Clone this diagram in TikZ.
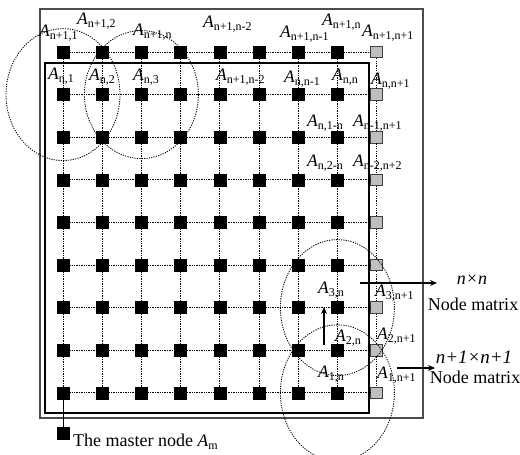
\documentclass[tikz,border=0pt]{standalone}
\usepackage{fontspec}
\setmainfont{Liberation Serif}
\usetikzlibrary{arrows.meta}
\newcommand{\Alab}[1]{{\fontsize{17.5}{18}\selectfont\itshape A}\raisebox{-3pt}{\fontsize{12}{12}\selectfont #1}}
\begin{document}
\begin{tikzpicture}[x=1pt,y=-1pt,
  blk/.style={draw=black, fill=black, minimum size=12pt, inner sep=0pt},
  gry/.style={draw=black!75, fill=black!25, line width=0.8pt, minimum size=11.5pt, inner sep=0pt},
  link/.style={dash pattern=on 1.3pt off 1.1pt, line width=0.9pt},
  zone/.style={dash pattern=on 1.2pt off 1.2pt, line width=0.85pt},
  lab/.style={anchor=west, inner sep=0pt},
  big/.style={inner sep=0pt, font=\fontsize{18}{20}\selectfont},
  arr/.style={-{Stealth[length=7pt,width=6pt]}, line width=1.5pt}]
\useasboundingbox (0,0) rectangle (520,455);
\clip (0,0) rectangle (520,455);
% frames
\draw[line width=1.2pt, draw=black!70] (40,9) rectangle (423,418);
\draw[line width=1.1pt] (45,63) rectangle (369,413);
% grid nodes
\foreach \r in {1,...,9}{
  \foreach \c in {1,...,9}{
    \pgfmathsetmacro\xx{63+(\c-1)*39.2}
    \pgfmathsetmacro\yy{52+(\r-1)*42.6}
    \ifnum\c=9
      \node[gry] (s-\r-\c) at (\xx,\yy) {};
    \else
      \node[blk] (s-\r-\c) at (\xx,\yy) {};
    \fi
  }}
% connectors
\foreach \r in {1,...,9}{
  \foreach \c [evaluate=\c as \n using int(\c+1)] in {1,...,8}{
    \draw[link] (s-\r-\c) -- (s-\r-\n);}}
\foreach \c in {1,...,9}{
  \foreach \r [evaluate=\r as \m using int(\r+1)] in {1,...,8}{
    \draw[link] (s-\r-\c) -- (s-\m-\c);}}
% zones
\draw[zone] (s-2-1.center) ellipse [x radius=57pt, y radius=66pt];
\draw[zone] (s-2-3.center) ellipse [x radius=57pt, y radius=64pt];
\draw[zone] (s-7-8.center) ellipse [x radius=57pt, y radius=68pt];
\draw[zone] (s-9-8.center) ellipse [x radius=57pt, y radius=68pt];
% master node
\node[blk] (master) at (63,433) {};
\draw[line width=1pt] (s-9-1) -- (master);
\node[anchor=base west, big] (mtext) at (73,446) {The master node \Alab{m}};
% arrows
\coordinate (u1) at (324,345); \coordinate (u2) at (324,307);
\draw[arr] (u1) -- (u2);
\coordinate (a1) at (360,283); \coordinate (a2) at (437,283);
\draw[arr] (a1) -- (a2);
\coordinate (b1) at (397,368); \coordinate (b2) at (435,368);
\draw[arr] (b1) -- (b2);
% right texts
\node[big, font=\fontsize{18}{20}\selectfont\itshape] (nn) at (472,280) {n×n};
\node[big] (nm1) at (473,304) {Node matrix};
\node[big, font=\fontsize{19}{20}\selectfont\itshape] (n1) at (474,357) {n+1×n+1};
\node[big] (nm2) at (475,377) {Node matrix};
% labels
\node[lab] (l1) at (39,33) {\Alab{n+1,1}};
\node[lab] (l2) at (77,21) {\Alab{n+1,2}};
\node[lab] (l3) at (133,32) {\Alab{n+1,n}};
\node[lab] (l4) at (203,24) {\Alab{n+1,n-2}};
\node[lab] (l5) at (280,34) {\Alab{n+1,n-1}};
\node[lab] (l6) at (322,22) {\Alab{n+1,n}};
\node[lab] (l7) at (362,33) {\Alab{n+1,n+1}};
\node[lab] (l8) at (48,76) {\Alab{n,1}};
\node[lab] (l9) at (89,77) {\Alab{n,2}};
\node[lab] (l10) at (133,77) {\Alab{n,3}};
\node[lab] (l11) at (216,77) {\Alab{n+1,n-2}};
\node[lab] (l12) at (284,79) {\Alab{n,n-1}};
\node[lab] (l13) at (332,77) {\Alab{n,n}};
\node[lab] (l14) at (371,81) {\Alab{n,n+1}};
\node[lab] (l15) at (307,123) {\Alab{n,1-n}};
\node[lab] (l16) at (353,123) {\Alab{n-1,n+1}};
\node[lab] (l17) at (307,163) {\Alab{n,2-n}};
\node[lab] (l18) at (353,163) {\Alab{n-2,n+2}};
\node[lab] (l19) at (318,290) {\Alab{3,n}};
\node[lab] (l20) at (375,293) {\Alab{3,n+1}};
\node[lab] (l21) at (335,338) {\Alab{2,n}};
\node[lab] (l22) at (377,336) {\Alab{2,n+1}};
\node[lab] (l23) at (318,374) {\Alab{1,n}};
\node[lab] (l24) at (377,375) {\Alab{1,n+1}};
\end{tikzpicture}
\end{document}
